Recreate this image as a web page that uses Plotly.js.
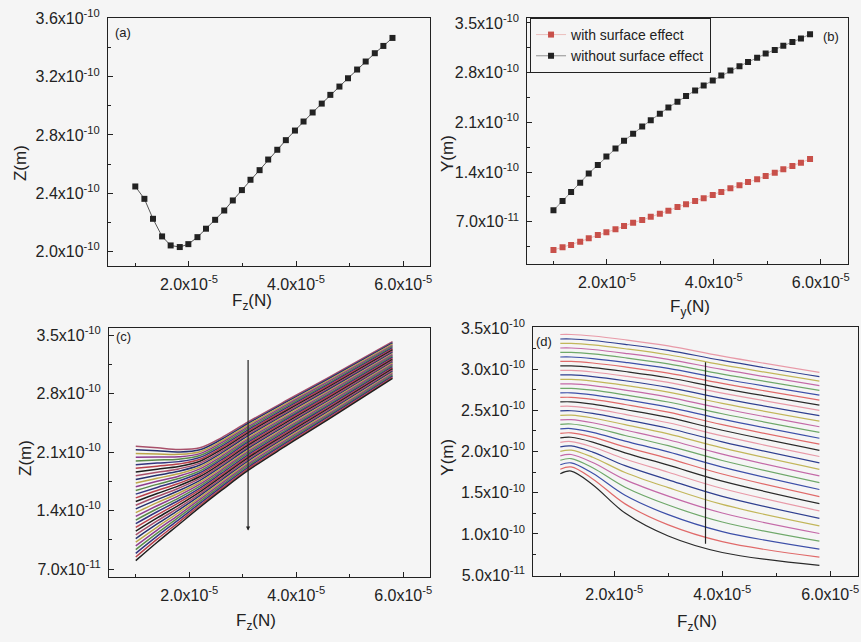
<!DOCTYPE html>
<html><head><meta charset="utf-8">
<script src="https://cdn.plot.ly/plotly-3.0.1.min.js"></script>
<style>html,body{margin:0;padding:0;background:#f5f5f5}#chart{width:861px;height:642px}</style>
</head><body><div id="chart"></div>
<script>
// ---- data (x in units of 1e-5 N, y in units of 1e-10 m) ----
const fzA = [1.00,1.17,1.33,1.50,1.66,1.83,1.99,2.16,2.32,2.49,2.66,2.82,2.99,3.15,3.32,3.48,3.65,3.81,3.98,4.14,4.31,4.48,4.64,4.81,4.97,5.14,5.30,5.47,5.63,5.80];
const zA = [2.446,2.361,2.224,2.103,2.041,2.030,2.050,2.098,2.156,2.217,2.281,2.350,2.421,2.492,2.558,2.631,2.698,2.764,2.830,2.892,2.954,3.015,3.075,3.132,3.189,3.249,3.304,3.361,3.411,3.466];

const fyB = [1.00,1.17,1.33,1.50,1.66,1.83,1.99,2.16,2.32,2.49,2.66,2.82,2.99,3.15,3.32,3.48,3.65,3.81,3.98,4.14,4.31,4.48,4.64,4.81,4.97,5.14,5.30,5.47,5.63,5.80];
const yWith = [0.301,0.339,0.371,0.418,0.465,0.512,0.550,0.592,0.639,0.686,0.723,0.770,0.813,0.855,0.907,0.944,0.991,1.029,1.076,1.118,1.170,1.212,1.259,1.297,1.344,1.391,1.438,1.485,1.532,1.583];
const yWithout = [0.86,0.99,1.12,1.25,1.38,1.50,1.62,1.73,1.84,1.94,2.04,2.13,2.22,2.31,2.39,2.47,2.55,2.62,2.69,2.76,2.83,2.89,2.95,3.01,3.07,3.12,3.18,3.23,3.28,3.34];
const seriesNamesB = ['with surface effect', 'without surface effect'];

const fzC = [1.0,1.4,1.8,2.2,2.6,3.1,3.8,4.6,5.8];
const zC = [
 [2.170,2.150,2.130,2.150,2.270,2.460,2.710,2.990,3.420],
 [2.126,2.114,2.101,2.127,2.250,2.441,2.693,2.974,3.406],
 [2.082,2.077,2.072,2.104,2.229,2.423,2.675,2.958,3.392],
 [2.037,2.041,2.043,2.081,2.209,2.404,2.658,2.942,3.377],
 [1.993,2.004,2.014,2.058,2.189,2.385,2.640,2.925,3.363],
 [1.949,1.968,1.985,2.036,2.168,2.366,2.623,2.909,3.349],
 [1.905,1.931,1.956,2.013,2.148,2.348,2.605,2.893,3.335],
 [1.861,1.895,1.927,1.990,2.128,2.329,2.588,2.877,3.321],
 [1.816,1.858,1.898,1.967,2.107,2.310,2.571,2.861,3.306],
 [1.772,1.822,1.869,1.944,2.087,2.292,2.553,2.845,3.292],
 [1.728,1.786,1.840,1.921,2.067,2.273,2.536,2.829,3.278],
 [1.684,1.749,1.811,1.898,2.046,2.254,2.518,2.813,3.264],
 [1.640,1.713,1.782,1.875,2.026,2.235,2.501,2.796,3.250],
 [1.596,1.676,1.753,1.852,2.006,2.217,2.484,2.780,3.236],
 [1.551,1.640,1.724,1.829,1.986,2.198,2.466,2.764,3.221],
 [1.507,1.603,1.695,1.807,1.965,2.179,2.449,2.748,3.207],
 [1.463,1.567,1.666,1.784,1.945,2.161,2.431,2.732,3.193],
 [1.419,1.530,1.636,1.761,1.925,2.142,2.414,2.716,3.179],
 [1.375,1.494,1.607,1.738,1.904,2.123,2.396,2.700,3.165],
 [1.330,1.457,1.578,1.715,1.884,2.105,2.379,2.684,3.150],
 [1.286,1.421,1.549,1.692,1.864,2.086,2.362,2.667,3.136],
 [1.242,1.385,1.520,1.669,1.843,2.067,2.344,2.651,3.122],
 [1.198,1.348,1.491,1.646,1.823,2.048,2.327,2.635,3.108],
 [1.154,1.312,1.462,1.623,1.803,2.030,2.309,2.619,3.094],
 [1.109,1.275,1.433,1.600,1.782,2.011,2.292,2.603,3.079],
 [1.065,1.239,1.404,1.578,1.762,1.992,2.275,2.587,3.065],
 [1.021,1.202,1.375,1.555,1.742,1.974,2.257,2.571,3.051],
 [0.977,1.166,1.346,1.532,1.721,1.955,2.240,2.554,3.037],
 [0.933,1.129,1.317,1.509,1.701,1.936,2.222,2.538,3.023],
 [0.888,1.093,1.288,1.486,1.681,1.917,2.205,2.522,3.008],
 [0.844,1.057,1.259,1.463,1.660,1.899,2.187,2.506,2.994],
 [0.800,1.020,1.230,1.440,1.640,1.880,2.170,2.490,2.980]
];

const fzD = [1.0,1.2,1.6,2.2,3.0,4.0,5.8];
const yD = [
 [3.420,3.420,3.402,3.356,3.282,3.158,2.960],
 [3.365,3.365,3.347,3.301,3.228,3.105,2.908],
 [3.311,3.311,3.293,3.247,3.174,3.051,2.854],
 [3.256,3.256,3.238,3.192,3.119,2.996,2.799],
 [3.202,3.202,3.184,3.138,3.064,2.940,2.742],
 [3.147,3.147,3.128,3.082,3.008,2.883,2.684],
 [3.093,3.093,3.074,3.027,2.952,2.826,2.624],
 [3.038,3.038,3.019,2.971,2.895,2.767,2.563],
 [2.984,2.984,2.965,2.916,2.838,2.708,2.500],
 [2.929,2.929,2.909,2.859,2.779,2.646,2.435],
 [2.875,2.875,2.854,2.803,2.721,2.585,2.369],
 [2.820,2.820,2.799,2.745,2.661,2.522,2.301],
 [2.766,2.766,2.744,2.687,2.601,2.458,2.232],
 [2.711,2.712,2.688,2.629,2.539,2.393,2.161],
 [2.657,2.658,2.633,2.571,2.478,2.326,2.089],
 [2.602,2.603,2.576,2.510,2.414,2.258,2.015],
 [2.548,2.549,2.520,2.450,2.349,2.189,1.940],
 [2.493,2.495,2.463,2.388,2.283,2.118,1.863],
 [2.439,2.441,2.407,2.326,2.214,2.044,1.784],
 [2.384,2.387,2.349,2.261,2.143,1.969,1.704],
 [2.330,2.334,2.292,2.195,2.071,1.891,1.622],
 [2.275,2.279,2.233,2.127,1.995,1.811,1.539],
 [2.221,2.227,2.175,2.057,1.917,1.727,1.454],
 [2.166,2.173,2.115,1.984,1.835,1.641,1.368],
 [2.112,2.121,2.055,1.909,1.749,1.551,1.280],
 [2.057,2.068,1.993,1.829,1.657,1.456,1.190],
 [2.003,2.017,1.931,1.746,1.562,1.358,1.099],
 [1.948,1.964,1.867,1.659,1.459,1.254,1.006],
 [1.894,1.914,1.803,1.567,1.351,1.145,0.912],
 [1.839,1.863,1.736,1.469,1.234,1.029,0.816],
 [1.785,1.813,1.668,1.365,1.110,0.907,0.719],
 [1.730,1.763,1.597,1.253,0.975,0.775,0.620]
];

// arrows in (c) and (d): [x, yStart, yEnd]
const arrowC = [3.10, 3.22, 1.16];
const arrowD = [3.69, 3.10, 0.88];

// tick labels
const xTickVals = [2, 4, 6];
const xTickText = ['2.0x10<sup>-5</sup>', '4.0x10<sup>-5</sup>', '6.0x10<sup>-5</sup>'];
const yTickValsA = [2.0, 2.4, 2.8, 3.2, 3.6];
const yTickTextA = ['2.0x10<sup>-10</sup>', '2.4x10<sup>-10</sup>', '2.8x10<sup>-10</sup>', '3.2x10<sup>-10</sup>', '3.6x10<sup>-10</sup>'];
const yTickValsB = [0.7, 1.4, 2.1, 2.8, 3.5];
const yTickTextB = ['7.0x10<sup>-11</sup>', '1.4x10<sup>-10</sup>', '2.1x10<sup>-10</sup>', '2.8x10<sup>-10</sup>', '3.5x10<sup>-10</sup>'];
const yTickValsD = [0.5, 1.0, 1.5, 2.0, 2.5, 3.0, 3.5];
const yTickTextD = ['5.0x10<sup>-11</sup>', '1.0x10<sup>-10</sup>', '1.5x10<sup>-10</sup>', '2.0x10<sup>-10</sup>', '2.5x10<sup>-10</sup>', '3.0x10<sup>-10</sup>', '3.5x10<sup>-10</sup>'];

// ---- styling ----
const FONT = 'Liberation Sans, Arial, sans-serif';
const INK = '#222';
const paletteC = ['#1e1e1e', '#b8404a', '#34347e', '#5a8a48', '#8e3c8e', '#bca64a', '#26306e', '#a8506a'];
const paletteD = ['#2a2a2a', '#e06a6a', '#3d4fa8', '#6fa86a', '#c46aa8', '#c2b65a', '#2f3f8f', '#e89aa8'];

const traces = [];
traces.push({x: fzA, y: zA, xaxis: 'x', yaxis: 'y', mode: 'lines+markers', showlegend: false,
  line: {color: '#555', width: 1}, marker: {symbol: 'square', size: 6, color: '#222'}});
traces.push({x: fyB, y: yWith, xaxis: 'x2', yaxis: 'y2', mode: 'lines+markers', name: seriesNamesB[0],
  line: {color: '#e8b0ad', width: 0.8}, marker: {symbol: 'square', size: 6, color: '#c8504a'}});
traces.push({x: fyB, y: yWithout, xaxis: 'x2', yaxis: 'y2', mode: 'lines+markers', name: seriesNamesB[1],
  line: {color: '#777', width: 0.8}, marker: {symbol: 'square', size: 6, color: '#222'}});
const nC = zC.length;
zC.forEach((row, i) => {
  traces.push({x: fzC, y: row, xaxis: 'x3', yaxis: 'y3', mode: 'lines', showlegend: false, hoverinfo: 'skip',
    line: {color: paletteC[(nC - 1 - i) % paletteC.length], width: 1.5, shape: 'spline', smoothing: 1}});
});
const nD = yD.length;
yD.forEach((row, i) => {
  traces.push({x: fzD, y: row, xaxis: 'x4', yaxis: 'y4', mode: 'lines', showlegend: false, hoverinfo: 'skip',
    line: {color: paletteD[(nD - 1 - i) % paletteD.length], width: 1.2, shape: 'spline', smoothing: 1}});
});

function axis(domain, anchor, range, tv, tt, minor) {
  return {domain, anchor, range, tickmode: 'array', tickvals: tv, ticktext: tt,
    ticks: 'inside', ticklen: 5, tickwidth: 1, tickcolor: INK,
    showline: true, linecolor: INK, linewidth: 1, mirror: true,
    showgrid: false, zeroline: false, ticklabelstandoff: 4,
    tickfont: {family: FONT, size: 16, color: INK},
    minor: {tickmode: 'linear', tick0: 0, dtick: minor, ticks: 'inside', ticklen: 3, tickwidth: 1, tickcolor: INK, showgrid: false}};
}

const layout = {
  width: 861, height: 642, margin: {l: 0, r: 0, t: 0, b: 0},
  paper_bgcolor: '#f5f5f5', plot_bgcolor: '#f5f5f5',
  font: {family: FONT, color: INK},
  xaxis:  axis([0.1254, 0.4994], 'y',  [0.49, 6.50], xTickVals, xTickText, 1),
  yaxis:  axis([0.5857, 0.9720], 'x',  [1.90, 3.603], yTickValsA, yTickTextA, 0.2),
  xaxis2: axis([0.6124, 0.9849], 'y2', [0.51, 6.51], xTickVals, xTickText, 1),
  yaxis2: axis([0.5888, 0.9720], 'x2', [0.104, 3.57], yTickValsB, yTickTextB, 0.35),
  xaxis3: axis([0.1266, 0.4994], 'y3', [0.50, 6.50], xTickVals, xTickText, 1),
  yaxis3: axis([0.1017, 0.4886], 'x3', [0.608, 3.58], yTickValsB, yTickTextB, 0.35),
  xaxis4: axis([0.6194, 0.9962], 'y4', [0.50, 6.51], xTickVals, xTickText, 1),
  yaxis4: axis([0.1028, 0.4899], 'x4', [0.49, 3.505], yTickValsD, yTickTextD, 0.25),
  showlegend: true,
  legend: {x: 0.6156, y: 0.972, xanchor: 'left', yanchor: 'top', bgcolor: '#f5f5f5',
    bordercolor: INK, borderwidth: 1, font: {family: FONT, size: 14, color: INK}, tracegroupgap: 0},
  annotations: []
};

function note(text, x, y, size, angle) {
  layout.annotations.push({text, x, y, xref: 'paper', yref: 'paper', showarrow: false,
    xanchor: 'center', yanchor: 'middle', textangle: angle || 0,
    font: {family: FONT, size, color: INK}});
}
note('Z(m)', 0.0232, 0.746, 17, -90);
note('F<sub>z</sub>(N)', 0.2927, 0.5296, 17);
note('Y(m)', 0.5203, 0.7617, 17, -90);
note('F<sub>y</sub>(N)', 0.8014, 0.5198, 17);
note('Z(m)', 0.029, 0.2866, 17, -90);
note('F<sub>z</sub>(N)', 0.297, 0.0317, 17);
note('Y(m)', 0.5203, 0.2887, 17, -90);
note('F<sub>z</sub>(N)', 0.8091, 0.0291, 17);
note('(a)', 0.1429, 0.9486, 13);
note('(b)', 0.9652, 0.9439, 13);
note('(c)', 0.1429, 0.4751, 13);
note('(d)', 0.6318, 0.4673, 13);

layout.annotations.push({x: arrowC[0], y: arrowC[2], ax: arrowC[0], ay: arrowC[1], xref: 'x3', yref: 'y3',
  axref: 'x3', ayref: 'y3', text: '', showarrow: true, arrowhead: 2, arrowsize: 0.7, arrowwidth: 1.2, arrowcolor: INK});
layout.annotations.push({x: arrowD[0], y: arrowD[2], ax: arrowD[0], ay: arrowD[1], xref: 'x4', yref: 'y4',
  axref: 'x4', ayref: 'y4', text: '', showarrow: true, arrowhead: 0, arrowwidth: 1.2, arrowcolor: INK});

Plotly.newPlot('chart', traces, layout, {displayModeBar: false, staticPlot: true});
</script>
</body></html>
